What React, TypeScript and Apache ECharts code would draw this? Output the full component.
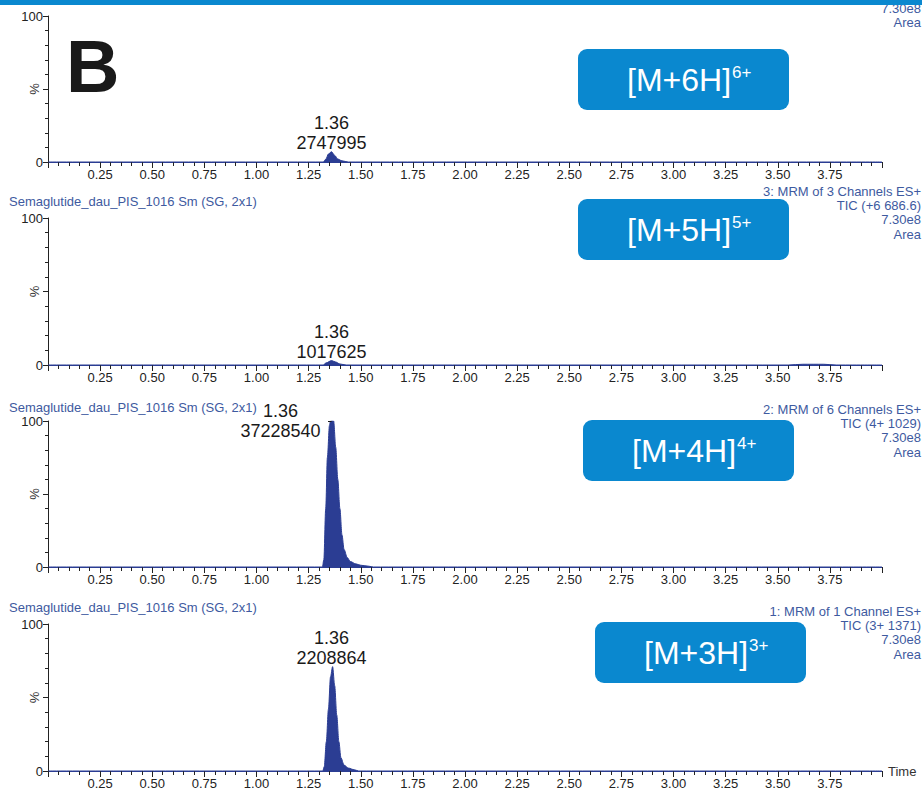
import React, { useEffect, useRef } from "react";
import * as echarts from "echarts";

const FONT = '"Liberation Sans", Arial, Helvetica, sans-serif';

// ---- data ----
const timeP1 = [0, 1.32, 1.333, 1.345, 1.36, 1.375, 1.39, 1.41, 1.44, 4.0];
const pctP1 = [0, 0, 2, 5.5, 7, 4.5, 2, 0.8, 0, 0];

const timeP2 = [0, 1.32, 1.335, 1.36, 1.38, 1.4, 1.43, 3.55, 3.62, 3.72, 3.78, 4.0];
const pctP2 = [0, 0, 1.5, 3, 2, 0.7, 0, 0, 0.5, 0.5, 0, 0];

const timeP3 = [0, 1.316, 1.323, 1.332, 1.34, 1.35, 1.355, 1.37, 1.38, 1.39, 1.4, 1.41, 1.42, 1.435, 1.45, 1.475, 1.5, 1.54, 1.56, 4.0];
const pctP3 = [0, 0, 5, 40, 75, 97, 100, 100, 82, 60, 40, 22, 12, 6.5, 3.8, 2.2, 1.2, 0.5, 0, 0];

const timeP4 = [0, 1.318, 1.325, 1.335, 1.345, 1.355, 1.365, 1.375, 1.385, 1.395, 1.405, 1.42, 1.44, 1.47, 1.49, 4.0];
const pctP4 = [0, 0, 3, 20, 42, 64, 71, 58, 38, 20, 9, 4, 2, 0.8, 0, 0];

const traceTimes = [timeP1, timeP2, timeP3, timeP4];
const tracePcts = [pctP1, pctP2, pctP3, pctP4];

const peakRt = [1.36, 1.36, 1.36, 1.36];
const peakPct = [7, 3, 100, 71];
const peakArea = ["2747995", "1017625", "37228540", "2208864"];
// clipped-peak bracket on the saturated trace (start, end time)
const clipBracket = [1.343, 1.36];

const ionBase = ["[M+6H]", "[M+5H]", "[M+4H]", "[M+3H]"];
const ionCharge = ["6+", "5+", "4+", "3+"];

const channelInfo = [
  ["7.30e8", "Area"],
  ["3: MRM of 3 Channels ES+", "TIC (+6 686.6)", "7.30e8", "Area"],
  ["2: MRM of 6 Channels ES+", "TIC (4+ 1029)", "7.30e8", "Area"],
  ["1: MRM of 1 Channel ES+", "TIC (3+ 1371)", "7.30e8", "Area"],
];
const sampleTitle = ["", "Semaglutide_dau_PIS_1016 Sm (SG, 2x1)", "Semaglutide_dau_PIS_1016 Sm (SG, 2x1)", "Semaglutide_dau_PIS_1016 Sm (SG, 2x1)"];

// ---- layout ----
const gridTop = [16, 218, 421, 624];
const gridHeight = [146, 147, 146, 147];
const gridLeft = 48;
const gridWidth = 834;
const boxLeft = [578, 578, 583, 595];
const boxTop = [49, 199, 420, 622];
const infoTop = [8.5, 191, 409, 611];
const titleY = [0, 201, 407, 607];

const NAVY = "#2b3d93";
const BLUE = "#0a88cf";
const INFO = "#3e5aa0";

export default function App() {
  const ref = useRef<HTMLDivElement>(null);
  useEffect(() => {
    if (!ref.current) return;
    const chart = echarts.init(ref.current, undefined, { renderer: "svg" });

    const grids = gridTop.map((t, i) => ({ left: gridLeft, top: t, width: gridWidth, height: gridHeight[i] }));

    const xAxes = gridTop.map((_, i) => ({
      type: "value",
      gridIndex: i,
      min: 0,
      max: 4,
      interval: 0.25,
      axisLine: { show: true, onZero: false, lineStyle: { color: NAVY, width: 1.2 } },
      axisTick: { show: true, length: 6, lineStyle: { color: "#222" } },
      minorTick: { show: true, splitNumber: 5, length: 4, lineStyle: { color: "#222" } },
      splitLine: { show: false },
      minorSplitLine: { show: false },
      axisLabel: {
        fontSize: 13,
        fontFamily: FONT,
        color: "#222",
        margin: 6,
        formatter: (v: number) => (v <= 0 || v >= 3.99 ? "" : v.toFixed(2)),
      },
      name: i === 3 ? "Time" : "",
      nameLocation: "end",
      nameGap: 6,
      nameTextStyle: { fontSize: 13, fontFamily: FONT, color: "#333" },
    }));

    const yAxes = gridTop.map((_, i) => ({
      type: "value",
      gridIndex: i,
      min: 0,
      max: 100,
      interval: 50,
      axisLine: { show: true, lineStyle: { color: "#222", width: 1 } },
      axisTick: { show: true, length: 5, lineStyle: { color: "#222" } },
      minorTick: { show: true, splitNumber: 5, length: 3, lineStyle: { color: "#222" } },
      splitLine: { show: false },
      minorSplitLine: { show: false },
      axisLabel: {
        fontSize: 13,
        fontFamily: FONT,
        color: "#222",
        margin: 5,
        formatter: (v: number) => (v === 50 ? "" : String(v)),
      },
      name: "%",
      nameLocation: "middle",
      nameGap: 7,
      nameRotate: 90,
      nameMoveOverlap: false,
      nameTextStyle: { fontSize: 13, fontFamily: FONT, color: "#333" },
    }));

    const series = traceTimes.map((ts, i) => ({
      type: "line",
      xAxisIndex: i,
      yAxisIndex: i,
      data: ts.map((t, k) => [t, tracePcts[i][k]]),
      showSymbol: false,
      smooth: 0.3,
      smoothMonotone: "x",
      silent: true,
      lineStyle: { color: NAVY, width: 1 },
      areaStyle: { color: NAVY, opacity: 1 },
      markPoint: {
        symbol: "circle",
        symbolSize: 1,
        silent: true,
        itemStyle: { color: "rgba(0,0,0,0)" },
        label: {
          show: true,
          formatter: `${peakRt[i].toFixed(2)}\n${peakArea[i]}`,
          position: "top",
          distance: 0,
          offset: i === 2 ? [-51, 20] : [0, 2],
          fontSize: 18,
          lineHeight: 20,
          fontFamily: FONT,
          color: "#1a1a1a",
          align: "center",
        },
        data: [{ coord: [peakRt[i], peakPct[i]] }],
      },
      markLine:
        i === 2
          ? {
              silent: true,
              symbol: "none",
              label: { show: false },
              lineStyle: { color: "#1a1a1a", width: 1, type: "solid" },
              data: [[{ coord: [clipBracket[0], 100] }, { coord: [clipBracket[1], 100] }]],
            }
          : undefined,
    }));

    const graphics: any[] = [];
    graphics.push({ type: "rect", z: 100, shape: { x: 0, y: 0, width: 922, height: 5 }, style: { fill: BLUE } });
    graphics.push({
      type: "text",
      x: 66,
      y: 66,
      style: { text: "B", font: `bold 74px ${FONT}`, fill: "#1a1a1a", align: "left", verticalAlign: "middle", textAlign: "left", textVerticalAlign: "middle" },
    });
    gridTop.forEach((_, i) => {
      graphics.push({ type: "rect", shape: { x: boxLeft[i], y: boxTop[i], width: 211, height: 61, r: 9 }, style: { fill: BLUE } });
      graphics.push({
        type: "text",
        x: boxLeft[i] + 49,
        y: boxTop[i] + 31,
        style: { text: ionBase[i], font: `32px ${FONT}`, fill: "#ffffff", align: "left", verticalAlign: "middle", textAlign: "left", textVerticalAlign: "middle" },
      });
      graphics.push({
        type: "text",
        x: boxLeft[i] + 154,
        y: boxTop[i] + 23,
        style: { text: ionCharge[i], font: `17px ${FONT}`, fill: "#ffffff", align: "left", verticalAlign: "middle", textAlign: "left", textVerticalAlign: "middle" },
      });
      channelInfo[i].forEach((line, k) => {
        graphics.push({
          type: "text",
          x: 921,
          y: infoTop[i] + k * 14.4,
          style: { text: line, font: `13px ${FONT}`, fill: INFO, align: "right", verticalAlign: "middle", textAlign: "right", textVerticalAlign: "middle" },
        });
      });
      if (sampleTitle[i]) {
        graphics.push({
          type: "text",
          x: 9,
          y: titleY[i],
          style: { text: sampleTitle[i], font: `13px ${FONT}`, fill: INFO, align: "left", verticalAlign: "middle", textAlign: "left", textVerticalAlign: "middle" },
        });
      }
    });

    chart.setOption({
      animation: false,
      backgroundColor: "#ffffff",
      grid: grids,
      xAxis: xAxes,
      yAxis: yAxes,
      series,
      graphic: graphics,
    } as any);

    return () => chart.dispose();
  }, []);

  return <div ref={ref} style={{ position: "absolute", left: 0, top: 0, width: 922, height: 798 }} />;
}
